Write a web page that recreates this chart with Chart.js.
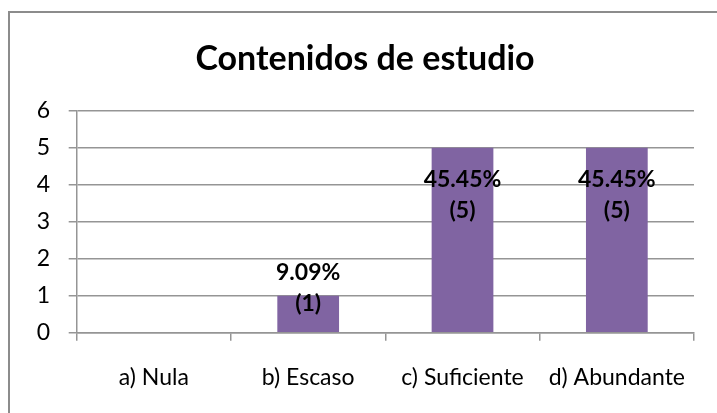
<!DOCTYPE html>
<html>
<head>
<meta charset="utf-8">
<script src="https://cdn.jsdelivr.net/npm/chart.js@4"></script>
<style>
  html, body { margin: 0; padding: 0; background: #fff; overflow: hidden; width: 717px; height: 413px; }
  #frame { position: absolute; left: 8px; top: 11px; width: 710px; height: 410px; border: 2px solid #8c8c8c; background: #fff; }
  #chart { display: block; }
</style>
</head>
<body>
<div id="frame"><canvas id="chart" width="710" height="410"></canvas></div>
<script>
// Chart data
const categories = ["a) Nula", "b) Escaso", "c) Suficiente", "d) Abundante"];
const counts = [0, 1, 5, 5];
const yTicks = [0, 1, 2, 3, 4, 5, 6];

const total = counts.reduce((a, b) => a + b, 0);

// draws "xx.xx%" and "(n)" labels at the top of each bar
const barLabels = {
  id: "barLabels",
  afterDatasetsDraw(chart) {
    const ctx = chart.ctx;
    const meta = chart.getDatasetMeta(0);
    ctx.save();
    ctx.font = "bold 23px Lato";
    ctx.fillStyle = "#000";
    ctx.textAlign = "center";
    ctx.textBaseline = "middle";
    meta.data.forEach((bar, i) => {
      const v = counts[i];
      if (!v) return;
      const pct = ((v / total) * 100).toFixed(2) + "%";
      const y1 = Math.min(bar.y + 32, bar.base - 59);
      ctx.fillText(pct, bar.x, y1);
      ctx.fillText("(" + v + ")", bar.x, y1 + 31);
    });
    ctx.restore();
  },
};

new Chart(document.getElementById("chart").getContext("2d"), {
  type: "bar",
  data: {
    labels: categories,
    datasets: [
      {
        data: counts,
        backgroundColor: "#8064A2",
        borderWidth: 0,
        barPercentage: 0.4,
        categoryPercentage: 1,
      },
    ],
  },
  options: {
    responsive: false,
    animation: false,
    layout: { padding: { left: 26, right: 26, top: 0, bottom: 30.3 } },
    scales: {
      x: {
        grid: {
          offset: true,
          drawOnChartArea: false,
          color: "#959595",
          lineWidth: 1.5,
          tickLength: 8,
        },
        border: { color: "#959595", width: 1.5 },
        ticks: {
          color: "#000",
          font: { family: "Lato", size: 23 },
          padding: 23.5,
          maxRotation: 0,
          autoSkip: false,
        },
        afterFit(scale) {
          scale.height = 60;
        },
      },
      y: {
        min: yTicks[0],
        max: yTicks[yTicks.length - 1],
        afterBuildTicks(scale) {
          scale.ticks = yTicks.map((v) => ({ value: v }));
        },
        grid: {
          color: "#959595",
          lineWidth: 1.5,
          tickLength: 8,
        },
        border: { color: "#959595", width: 1.5 },
        ticks: {
          color: "#000",
          font: { family: "Lato", size: 23 },
          padding: 18.7,
        },
        afterFit(scale) {
          scale.width = 40.7;
        },
      },
    },
    plugins: {
      legend: { display: false },
      tooltip: { enabled: false },
      title: {
        display: true,
        text: "Contenidos de estudio",
        color: "#000",
        font: { family: "Lato", size: 34, weight: "bold" },
        padding: { top: 26, bottom: 31 },
      },
    },
  },
  plugins: [barLabels],
});
</script>
</body>
</html>
